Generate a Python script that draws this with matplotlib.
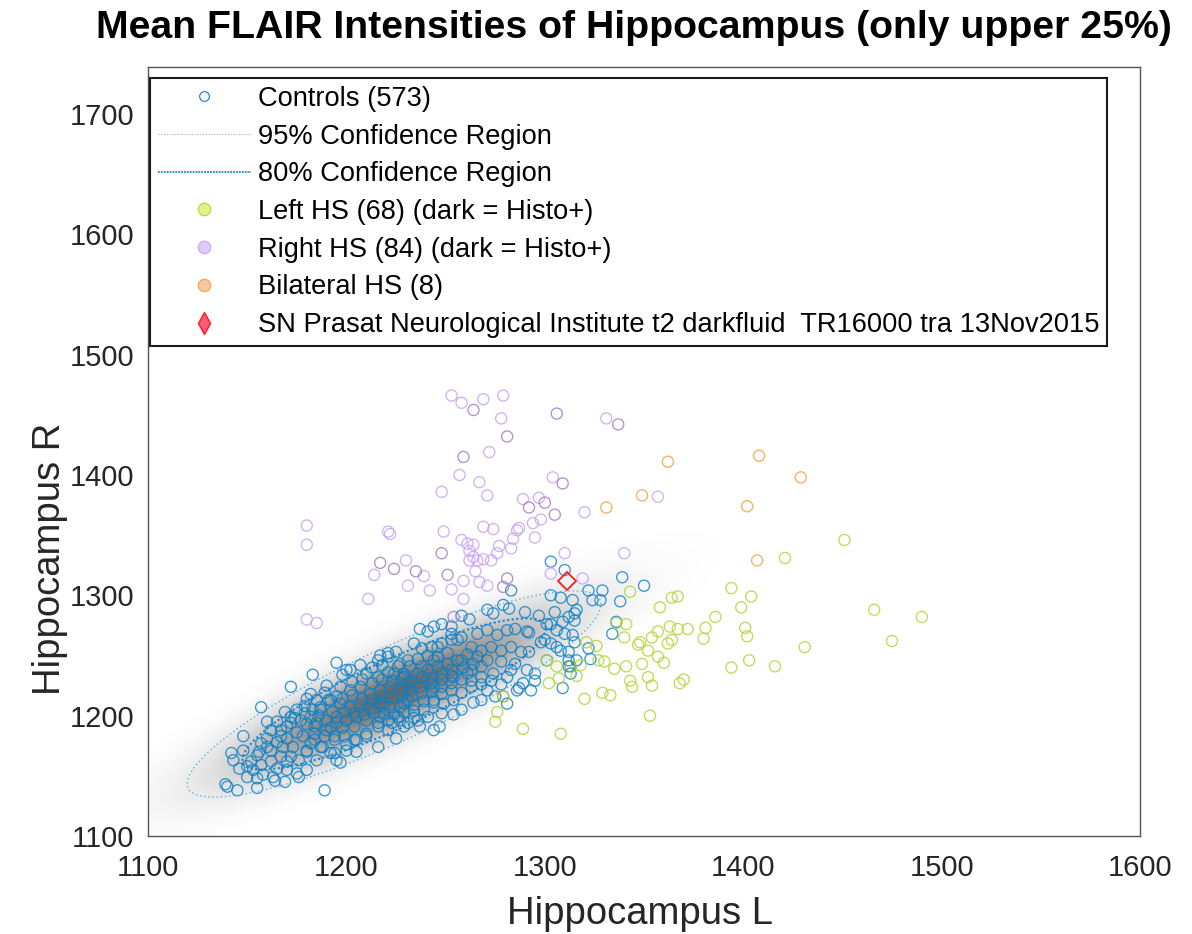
import numpy as np
import matplotlib.pyplot as plt
from matplotlib.lines import Line2D

plt.rcParams['font.family'] = ['Liberation Sans', 'DejaVu Sans']

# (Hippocampus L, Hippocampus R) mean FLAIR intensities
controls = [
    # lower-left tail
    (1139, 1143), (1140, 1141), (1145, 1138), (1155, 1140), (1169, 1145), (1164, 1146), (1189, 1138),
    (1142, 1169), (1143, 1163), (1148, 1183), (1157, 1207), (1176, 1149),
    (1150, 1158), (1153, 1155), (1157, 1159), (1162, 1162), (1165, 1156), (1167, 1166), (1172, 1166),
    (1176, 1163), (1180, 1170), (1185, 1163), (1184, 1180), (1188, 1174), (1192, 1169), (1195, 1163),
    (1175, 1152), (1180, 1155), (1170, 1155), (1158, 1151), (1150, 1149), (1155, 1148), (1163, 1149),
    (1148, 1171), (1157, 1177), (1160, 1181), (1167, 1183), (1170, 1191), (1174, 1198), (1179, 1202),
    (1183, 1205), (1187, 1207), (1191, 1213), (1195, 1216), (1180, 1214), (1172, 1199), (1184, 1191),
    (1190, 1188), (1194, 1183), (1190, 1196), (1195, 1194), (1162, 1188), (1165, 1195),
    # middle
    (1172, 1224), (1183, 1234), (1195, 1244), (1200, 1238), (1198, 1234), (1190, 1225), (1182, 1218),
    (1216, 1174), (1225, 1181), (1205, 1170), (1221, 1249), (1225, 1253), (1216, 1246), (1202, 1238),
    (1207, 1242), (1210, 1235), (1216, 1232), (1221, 1236), (1226, 1241), (1229, 1235), (1197, 1224),
    (1202, 1221), (1207, 1224), (1212, 1218), (1217, 1221), (1222, 1224), (1227, 1221), (1231, 1227),
    (1192, 1213), (1197, 1210), (1202, 1207), (1207, 1209), (1212, 1206), (1217, 1210), (1222, 1207),
    (1227, 1207), (1231, 1213), (1187, 1205), (1182, 1199), (1177, 1196), (1172, 1194), (1167, 1188),
    (1185, 1194), (1195, 1199), (1200, 1196), (1205, 1199), (1210, 1196), (1216, 1194), (1221, 1196),
    (1226, 1199), (1231, 1194), (1178, 1183), (1184, 1185), (1189, 1183), (1194, 1180), (1199, 1183),
    (1204, 1180), (1210, 1183), (1173, 1174), (1180, 1171), (1187, 1174), (1194, 1169), (1200, 1171),
    (1162, 1171), (1168, 1174), (1155, 1167),
    (1221, 1252), (1217, 1250), (1234, 1260), (1238, 1256), (1237, 1272), (1244, 1274), (1248, 1276),
    (1241, 1270), (1253, 1268), (1256, 1263), (1246, 1257), (1251, 1252), (1256, 1246), (1227, 1243),
    (1232, 1241), (1224, 1235), (1229, 1232), (1236, 1235), (1241, 1238), (1246, 1241), (1253, 1238),
    (1237, 1224), (1232, 1221), (1243, 1227), (1248, 1224), (1253, 1227), (1219, 1210), (1229, 1210),
    (1234, 1209), (1239, 1212), (1244, 1213), (1249, 1210), (1254, 1213), (1227, 1196), (1234, 1198),
    (1241, 1199), (1248, 1202), (1254, 1201), (1237, 1191), (1244, 1188), (1216, 1191), (1221, 1188),
    (1247, 1191),
    # upper-right part
    (1283, 1304), (1279, 1292), (1282, 1289), (1290, 1286), (1312, 1282), (1315, 1279), (1271, 1288),
    (1274, 1285), (1262, 1280), (1258, 1283), (1253, 1274), (1266, 1268), (1271, 1271), (1276, 1267),
    (1281, 1271), (1285, 1272), (1292, 1269), (1301, 1276), (1310, 1268), (1298, 1261), (1243, 1257),
    (1248, 1260), (1253, 1263), (1258, 1265), (1263, 1257), (1268, 1254), (1273, 1257), (1278, 1254),
    (1283, 1257), (1288, 1253), (1244, 1246), (1251, 1243), (1258, 1246), (1264, 1243), (1271, 1246),
    (1278, 1245), (1285, 1243), (1292, 1253), (1291, 1238), (1289, 1227), (1293, 1221), (1286, 1221),
    (1248, 1235), (1254, 1232), (1261, 1235), (1268, 1232), (1274, 1235), (1281, 1232), (1244, 1224),
    (1253, 1221), (1263, 1224), (1271, 1221), (1306, 1257), (1312, 1253), (1316, 1246), (1312, 1241),
    (1301, 1246), (1281, 1210), (1275, 1216), (1287, 1223),
    (1303, 1328), (1310, 1321), (1339, 1315), (1350, 1308), (1303, 1300), (1308, 1298), (1314, 1296),
    (1322, 1304), (1329, 1304), (1324, 1296), (1328, 1296), (1338, 1295), (1316, 1288), (1315, 1285),
    (1297, 1283), (1305, 1286), (1303, 1276), (1309, 1278), (1291, 1270), (1306, 1271), (1314, 1267),
    (1336, 1278), (1334, 1268), (1300, 1263), (1303, 1260), (1315, 1261), (1308, 1254), (1322, 1256),
    (1323, 1247), (1312, 1246), (1295, 1235), (1313, 1235), (1295, 1229), (1309, 1223),
    # lower edge
    (1197, 1161), (1244, 1211), (1258, 1205), (1264, 1211), (1268, 1213), (1236, 1196), (1229, 1191),
    (1223, 1194), (1210, 1185), (1205, 1180), (1200, 1176), (1217, 1199),
    # dense core
    (1193, 1203), (1198, 1214), (1203, 1217), (1208, 1214), (1213, 1213), (1218, 1216), (1223, 1215),
    (1228, 1217), (1233, 1216), (1238, 1219), (1243, 1220), (1248, 1218), (1203, 1228), (1208, 1230),
    (1213, 1227), (1218, 1230), (1223, 1229), (1228, 1231), (1233, 1229), (1238, 1232), (1243, 1231),
    (1248, 1230), (1253, 1233), (1258, 1230), (1263, 1238), (1268, 1241), (1213, 1240), (1218, 1242),
    (1231, 1246), (1236, 1247), (1241, 1250), (1246, 1249), (1261, 1251), (1266, 1249), (1199, 1203),
    (1204, 1202), (1209, 1201), (1214, 1203), (1219, 1202), (1224, 1201), (1229, 1203), (1234, 1204),
    (1239, 1205), (1186, 1200), (1180, 1193), (1175, 1186), (1170, 1181), (1165, 1178), (1160, 1174),
    (1152, 1162), (1156, 1170), (1146, 1156), (1170, 1162), (1182, 1177), (1192, 1190), (1198, 1190),
    (1204, 1191), (1179, 1208), (1185, 1213), (1189, 1219), (1175, 1205), (1169, 1203), (1160, 1195),
    (1258, 1219), (1263, 1229), (1268, 1226), (1273, 1229), (1278, 1226), (1283, 1238), (1259, 1240),
    (1238, 1241),
]

left_hs = [
    (1343, 1303), (1358, 1290), (1364, 1298), (1367, 1299), (1394, 1306), (1404, 1299), (1399, 1290),
    (1421, 1331), (1451, 1346), (1386, 1282), (1381, 1273), (1380, 1264), (1372, 1272), (1367, 1272),
    (1363, 1274), (1364, 1263), (1362, 1260), (1354, 1265), (1347, 1259), (1348, 1261), (1352, 1254),
    (1357, 1249), (1360, 1244), (1349, 1243), (1340, 1265), (1341, 1276), (1336, 1277), (1401, 1273),
    (1402, 1266), (1431, 1257), (1403, 1246), (1394, 1240), (1416, 1241), (1466, 1288), (1475, 1262),
    (1490, 1282), (1321, 1261), (1326, 1258), (1301, 1246), (1306, 1241), (1318, 1242), (1327, 1246),
    (1330, 1245), (1335, 1239), (1341, 1241), (1370, 1230), (1344, 1224), (1343, 1229), (1352, 1232),
    (1354, 1225), (1329, 1219), (1333, 1217), (1320, 1214), (1353, 1200), (1368, 1227), (1302, 1227),
    (1307, 1231), (1316, 1233), (1308, 1185), (1289, 1189), (1276, 1203), (1275, 1195), (1357, 1270),
]
left_hs_histo = [(1279, 1216), (1313, 1241)]

right_hs = [
    (1253, 1466), (1258, 1460), (1269, 1463), (1279, 1466), (1278, 1447), (1331, 1447), (1272, 1419),
    (1257, 1400), (1267, 1394), (1248, 1386), (1271, 1383), (1304, 1398), (1289, 1380), (1297, 1381),
    (1320, 1369), (1294, 1360), (1298, 1363), (1295, 1348), (1340, 1335), (1310, 1335), (1303, 1318),
    (1319, 1314), (1269, 1357), (1274, 1355), (1286, 1354), (1284, 1347), (1283, 1339), (1277, 1341),
    (1276, 1335), (1273, 1329), (1269, 1330), (1249, 1353), (1258, 1346), (1261, 1343), (1264, 1342),
    (1262, 1337), (1262, 1329), (1264, 1332), (1266, 1329), (1265, 1320), (1259, 1312), (1267, 1311),
    (1271, 1308), (1253, 1305), (1259, 1297), (1242, 1304), (1239, 1316), (1230, 1329), (1231, 1308),
    (1214, 1317), (1211, 1297), (1221, 1353), (1222, 1351), (1180, 1358), (1180, 1342), (1180, 1280),
    (1185, 1277), (1357, 1382), (1287, 1356),
]
right_hs_histo = [
    (1264, 1454), (1281, 1432), (1306, 1451), (1337, 1442), (1259, 1415), (1309, 1393), (1292, 1373),
    (1300, 1377), (1305, 1367), (1248, 1335), (1281, 1314), (1279, 1307), (1251, 1317), (1235, 1320),
    (1217, 1327), (1224, 1322), (1254, 1282),
]

bilateral_hs = [(1362, 1411), (1408, 1416), (1429, 1398), (1349, 1383), (1331, 1373), (1402, 1374), (1407, 1329)]

subject = (1311, 1312)

# control distribution as drawn (centre, sd, correlation)
ctrl_center = (1224, 1218)
ctrl_sd = (42.6, 35.0)
ctrl_rho = 0.87
chi2_95 = 5.991
chi2_80 = 3.219

labels = ['Controls (573)', '95% Confidence Region', '80% Confidence Region',
          'Left HS (68) (dark = Histo+)', 'Right HS (84) (dark = Histo+)', 'Bilateral HS (8)',
          'SN Prasat Neurological Institute t2 darkfluid  TR16000 tra 13Nov2015']

c_ctrl = '#0a7fc6'
c_green, c_green_dk = '#b3d63a', '#86ad1e'
c_purple, c_purple_dk = '#c9a3f7', '#a77cc4'
c_orange = '#f2a444'

fig = plt.figure(figsize=(11.92, 9.34), dpi=100)
ax = fig.add_axes([0.1242, 0.1049, 0.8322, 0.8234])
ax.set_xlim(1100, 1600)
ax.set_ylim(1100, 1739)

# grey density shading of the control distribution
cov = np.array([[ctrl_sd[0] ** 2, ctrl_rho * ctrl_sd[0] * ctrl_sd[1]],
                [ctrl_rho * ctrl_sd[0] * ctrl_sd[1], ctrl_sd[1] ** 2]])
icov = np.linalg.inv(cov)
gx, gy = np.meshgrid(np.linspace(1100, 1600, 600), np.linspace(1100, 1739, 700))
dx, dy = gx - ctrl_center[0], gy - ctrl_center[1]
q = icov[0, 0] * dx * dx + 2 * icov[0, 1] * dx * dy + icov[1, 1] * dy * dy
shade = np.zeros(gx.shape + (4,))
shade[..., 3] = 0.6 * np.exp(-q / 3.0)
ax.imshow(shade, extent=(1100, 1600, 1100, 1739), origin='lower', aspect='auto', zorder=0)

def scatter(pts, color, alpha=0.85):
    a = np.array(pts)
    ax.scatter(a[:, 0], a[:, 1], s=64, facecolors='none', edgecolors=color, linewidths=0.95,
               alpha=alpha, zorder=2)

scatter(controls, c_ctrl, 0.8)
scatter(left_hs, c_green)
scatter(left_hs_histo, c_green_dk)
scatter(right_hs, c_purple)
scatter(right_hs_histo, c_purple_dk)
scatter(bilateral_hs, c_orange)
ax.plot(subject[0], subject[1], ls='none', marker='D', ms=9, mfc='none', mec='#ff1a1a', mew=1.3, zorder=4)

# confidence ellipses
L = np.linalg.cholesky(cov)
t = np.linspace(0, 2 * np.pi, 300)
circ = np.vstack([np.cos(t), np.sin(t)])
for chi2, col, lw, dash in [(chi2_95, '#5aaee0', 1.0, (0, (1, 2))), (chi2_80, '#1a86cc', 1.5, (0, (1, 1.2)))]:
    e = L @ circ * np.sqrt(chi2)
    ax.plot(e[0] + ctrl_center[0], e[1] + ctrl_center[1], color=col, lw=lw, ls=dash, zorder=3)

ax.set_xticks([1100, 1200, 1300, 1400, 1500, 1600])
ax.set_yticks([1100, 1200, 1300, 1400, 1500, 1600, 1700])
ax.tick_params(length=0, labelsize=21, colors='#262626')
ax.tick_params(axis='x', pad=13)
ax.tick_params(axis='y', pad=10)
for s in ax.spines.values():
    s.set_color('#555555')
    s.set_linewidth(1.0)

ax.set_xlabel('Hippocampus L', fontsize=27.5, color='#262626')
ax.set_ylabel('Hippocampus R', fontsize=27.5, color='#262626')
ax.xaxis.set_label_coords(0.496, -0.078)
ax.yaxis.set_label_coords(-0.081, 0.36)

fig.text(0.532, 0.970, 'Mean FLAIR Intensities of Hippocampus (only upper 25%)',
         ha='center', va='center', fontsize=28.3, fontweight='bold')

handles = [
    Line2D([], [], ls='none', marker='o', ms=7, mfc='none', mec=c_ctrl, mew=0.8),
    Line2D([], [], color='#7fc1e8', lw=0.8, ls=(0, (1, 1.5))),
    Line2D([], [], color='#1a86cc', lw=1.3, ls=(0, (1, 0.6))),
    Line2D([], [], ls='none', marker='o', ms=9, mfc='#dcf584', mec=c_green, mew=0.8),
    Line2D([], [], ls='none', marker='o', ms=9, mfc='#ddcbfb', mec=c_purple, mew=0.8),
    Line2D([], [], ls='none', marker='o', ms=9, mfc='#f9c6a2', mec=c_orange, mew=0.8),
    Line2D([], [], ls='none', marker='d', ms=11, mfc='#ff5a7a', mec='#ff1a1a', mew=1.0),
]
leg = ax.legend(handles, labels, loc='upper left', bbox_to_anchor=(0.002, 0.986), borderaxespad=0,
                fontsize=19.6, frameon=True, fancybox=False, edgecolor='#1a1a1a', framealpha=1,
                handlelength=3.4, handletextpad=0.26, borderpad=0.3, labelspacing=0.43)
leg.get_frame().set_linewidth(1.5)

fig.savefig('out.png', dpi=100)
